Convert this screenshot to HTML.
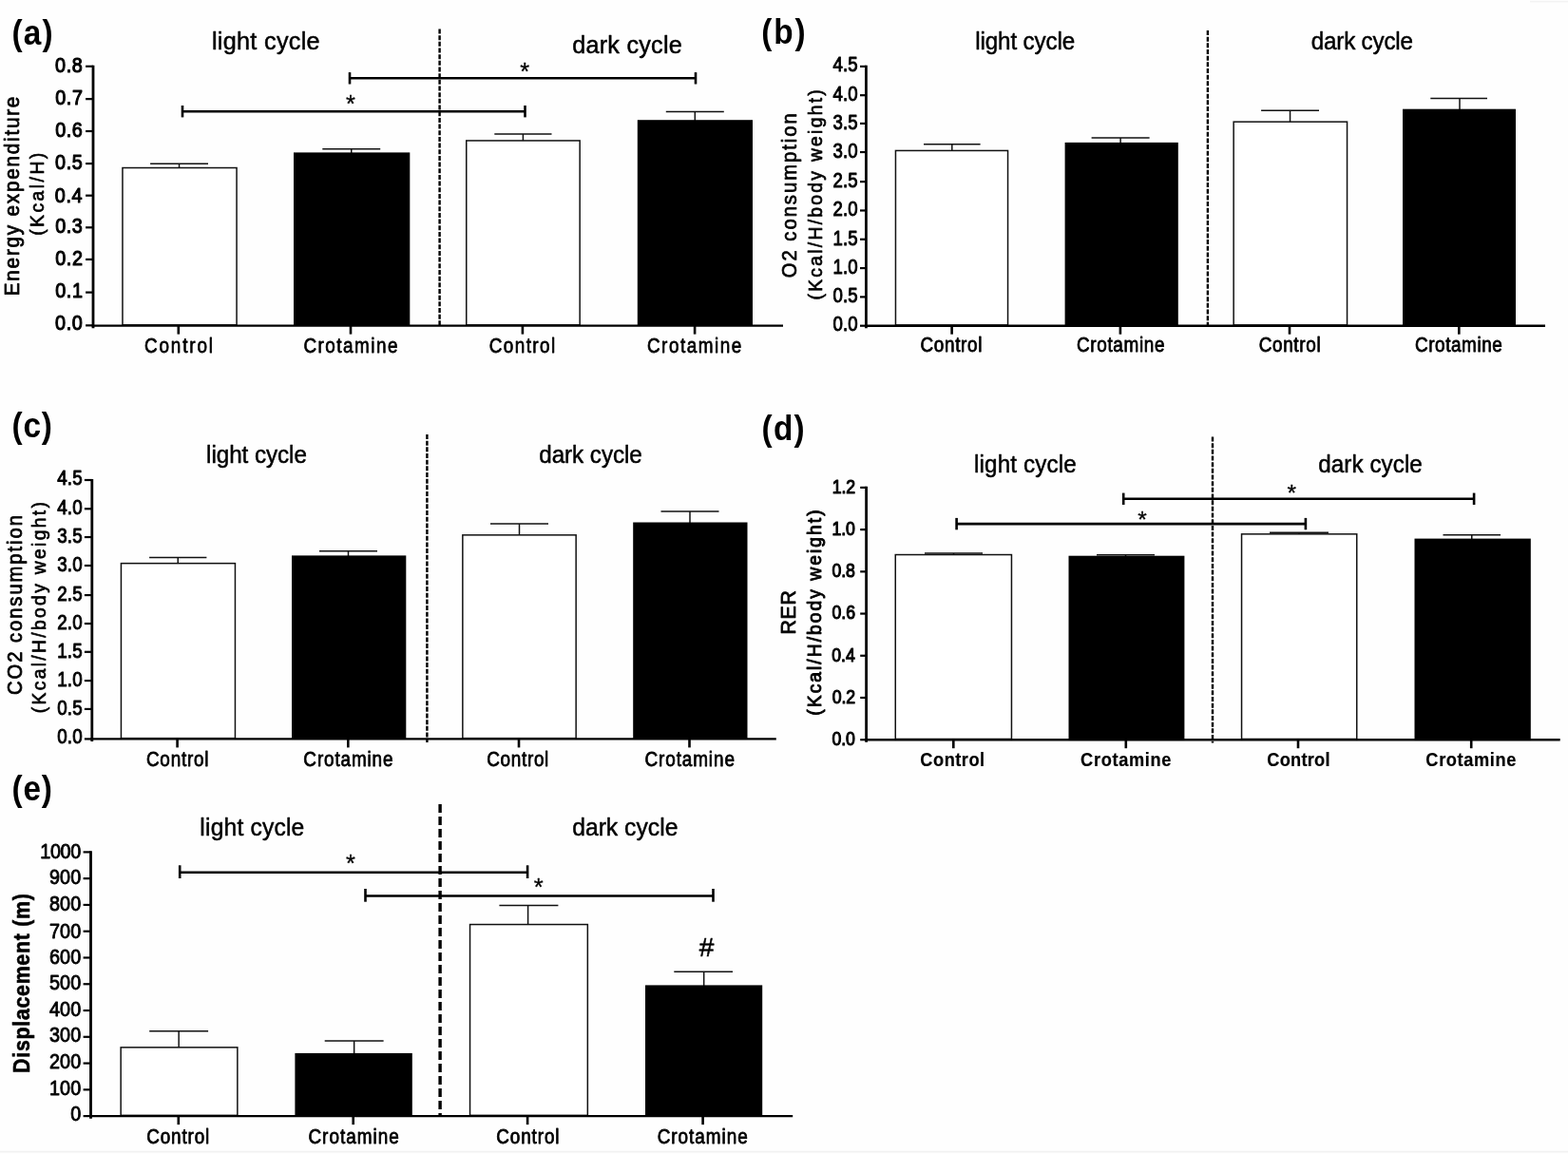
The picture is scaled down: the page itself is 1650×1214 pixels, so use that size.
<!DOCTYPE html>
<html lang="en">
<head>
<meta charset="utf-8">
<title>Figure: energy expenditure, O2/CO2 consumption, RER and displacement</title>
<style>
html,body{margin:0;padding:0;background:#fefefe;}
body{width:1650px;height:1214px;overflow:hidden;}
svg{display:block;filter:blur(0.45px);}
text{font-family:"Liberation Sans",Arial,Helvetica,sans-serif;fill:#000;stroke-linejoin:round;}
</style>
</head>
<body>
<svg width="1650" height="1214" viewBox="0 0 1650 1214">
<rect width="1650" height="1214" fill="#fefefe"/>
<rect x="0" y="1210.8" width="1650" height="1.6" fill="#f1f1f1"/>
<rect x="1610" y="0.8" width="40" height="1.6" fill="#f3f3f3"/>
<g>
<line x1="188.55" y1="172.3" x2="188.55" y2="176.8" stroke="#111" stroke-width="1.5"/>
<line x1="158.1" y1="172.3" x2="219" y2="172.3" stroke="#111" stroke-width="1.5"/>
<rect x="128.95" y="176.55" width="120.1" height="165.3" fill="#fff" stroke="#111" stroke-width="1.5"/>
<line x1="369.75" y1="156.8" x2="369.75" y2="161.4" stroke="#111" stroke-width="1.5"/>
<line x1="339.3" y1="156.8" x2="400.2" y2="156.8" stroke="#111" stroke-width="1.5"/>
<rect x="309" y="160.4" width="122.3" height="182.2" fill="#000"/>
<line x1="550.4" y1="141" x2="550.4" y2="148.2" stroke="#111" stroke-width="1.5"/>
<line x1="520.3" y1="141" x2="580.5" y2="141" stroke="#111" stroke-width="1.5"/>
<rect x="490.75" y="147.95" width="119.4" height="193.9" fill="#fff" stroke="#111" stroke-width="1.5"/>
<line x1="731.3" y1="117.6" x2="731.3" y2="127.2" stroke="#111" stroke-width="1.5"/>
<line x1="700.8" y1="117.6" x2="761.8" y2="117.6" stroke="#111" stroke-width="1.5"/>
<rect x="670.8" y="126.2" width="121.2" height="216.4" fill="#000"/>
<line x1="462.6" y1="30.5" x2="462.6" y2="342" stroke="#000" stroke-width="2.4" stroke-dasharray="5 1.67"/>
<line x1="98" y1="68.7" x2="98" y2="345.2" stroke="#000" stroke-width="2.8"/>
<line x1="96.6" y1="342.6" x2="824" y2="342.6" stroke="#000" stroke-width="2.4"/>
<line x1="90.1" y1="342.35" x2="98" y2="342.35" stroke="#000" stroke-width="2.2"/>
<text transform="translate(58.07 347.3) scale(0.9 1)" font-size="22" letter-spacing="0.67" stroke="#000" stroke-width="1.1">0.0</text>
<line x1="90.1" y1="307.6" x2="98" y2="307.6" stroke="#000" stroke-width="2.2"/>
<text transform="translate(58.27 313.1) scale(0.9 1)" font-size="22" letter-spacing="0.67" stroke="#000" stroke-width="1.1">0.1</text>
<line x1="90.1" y1="272.9" x2="98" y2="272.9" stroke="#000" stroke-width="2.2"/>
<text transform="translate(58.27 279.2) scale(0.9 1)" font-size="22" letter-spacing="0.67" stroke="#000" stroke-width="1.1">0.2</text>
<line x1="90.1" y1="239.3" x2="98" y2="239.3" stroke="#000" stroke-width="2.2"/>
<text transform="translate(58.17 245.25) scale(0.9 1)" font-size="22" letter-spacing="0.67" stroke="#000" stroke-width="1.1">0.3</text>
<line x1="90.1" y1="205.7" x2="98" y2="205.7" stroke="#000" stroke-width="2.2"/>
<text transform="translate(57.87 212.6) scale(0.9 1)" font-size="22" letter-spacing="0.67" stroke="#000" stroke-width="1.1">0.4</text>
<line x1="90.1" y1="172.1" x2="98" y2="172.1" stroke="#000" stroke-width="2.2"/>
<text transform="translate(58.12 178.3) scale(0.9 1)" font-size="22" letter-spacing="0.67" stroke="#000" stroke-width="1.1">0.5</text>
<line x1="90.1" y1="138" x2="98" y2="138" stroke="#000" stroke-width="2.2"/>
<text transform="translate(58.17 144.4) scale(0.9 1)" font-size="22" letter-spacing="0.67" stroke="#000" stroke-width="1.1">0.6</text>
<line x1="90.1" y1="104.15" x2="98" y2="104.15" stroke="#000" stroke-width="2.2"/>
<text transform="translate(58.27 110.4) scale(0.9 1)" font-size="22" letter-spacing="0.67" stroke="#000" stroke-width="1.1">0.7</text>
<line x1="90.1" y1="69.8" x2="98" y2="69.8" stroke="#000" stroke-width="2.2"/>
<text transform="translate(58.12 75.5) scale(0.9 1)" font-size="22" letter-spacing="0.67" stroke="#000" stroke-width="1.1">0.8</text>
<line x1="187.8" y1="342.6" x2="187.8" y2="351.6" stroke="#000" stroke-width="2.6"/>
<text transform="translate(152.03 371) scale(0.86 1)" font-size="22" letter-spacing="2.13" stroke="#000" stroke-width="0.75">Control</text>
<line x1="369" y1="342.6" x2="369" y2="351.6" stroke="#000" stroke-width="2.6"/>
<text transform="translate(319.43 371) scale(0.86 1)" font-size="22" letter-spacing="1.71" stroke="#000" stroke-width="0.75">Crotamine</text>
<line x1="549.9" y1="342.6" x2="549.9" y2="351.6" stroke="#000" stroke-width="2.6"/>
<text transform="translate(514.63 371) scale(0.86 1)" font-size="22" letter-spacing="1.69" stroke="#000" stroke-width="0.75">Control</text>
<line x1="731.1" y1="342.6" x2="731.1" y2="351.6" stroke="#000" stroke-width="2.6"/>
<text transform="translate(680.93 371) scale(0.86 1)" font-size="22" letter-spacing="1.78" stroke="#000" stroke-width="0.75">Crotamine</text>
<text transform="translate(12.41 47) scale(0.92 1)" font-size="36.3" letter-spacing="1.28" font-weight="bold">(a)</text>
<text transform="translate(222.91 51.5)" font-size="25.2" letter-spacing="0.31" stroke="#000" stroke-width="0.5">light cycle</text>
<text transform="translate(602.24 55.9)" font-size="25.2" letter-spacing="0.24" stroke="#000" stroke-width="0.5">dark cycle</text>
<text transform="translate(20.2 311.26) rotate(-90) scale(0.92 1)" font-size="22.5" letter-spacing="1.93" stroke="#000" stroke-width="0.8">Energy expenditure</text>
<text transform="translate(46 247.81) rotate(-90) scale(0.92 1)" font-size="21" letter-spacing="2.7" stroke="#000" stroke-width="0.7">(Kcal/H)</text>
<line x1="192" y1="117.2" x2="552.5" y2="117.2" stroke="#000" stroke-width="2.6"/>
<line x1="192" y1="111" x2="192" y2="123.4" stroke="#000" stroke-width="2.6"/>
<line x1="552.5" y1="111" x2="552.5" y2="123.4" stroke="#000" stroke-width="2.6"/>
<text transform="translate(364.03 118)" font-size="25.5" stroke="#000" stroke-width="0.3">*</text>
<line x1="368" y1="82.3" x2="732" y2="82.3" stroke="#000" stroke-width="2.6"/>
<line x1="368" y1="76.1" x2="368" y2="88.5" stroke="#000" stroke-width="2.6"/>
<line x1="732" y1="76.1" x2="732" y2="88.5" stroke="#000" stroke-width="2.6"/>
<text transform="translate(547.23 84)" font-size="25.5" stroke="#000" stroke-width="0.3">*</text>
</g>
<g>
<line x1="1001.8" y1="151.8" x2="1001.8" y2="158.7" stroke="#111" stroke-width="1.5"/>
<line x1="972" y1="151.8" x2="1031.6" y2="151.8" stroke="#111" stroke-width="1.5"/>
<rect x="942.45" y="158.45" width="118.1" height="183.5" fill="#fff" stroke="#111" stroke-width="1.5"/>
<line x1="1179.1" y1="145" x2="1179.1" y2="150.9" stroke="#111" stroke-width="1.5"/>
<line x1="1148.6" y1="145" x2="1209.6" y2="145" stroke="#111" stroke-width="1.5"/>
<rect x="1120.6" y="149.9" width="119.2" height="192.8" fill="#000"/>
<line x1="1357.55" y1="116.3" x2="1357.55" y2="128.4" stroke="#111" stroke-width="1.5"/>
<line x1="1327.1" y1="116.3" x2="1388" y2="116.3" stroke="#111" stroke-width="1.5"/>
<rect x="1298.15" y="128.15" width="119.4" height="213.8" fill="#fff" stroke="#111" stroke-width="1.5"/>
<line x1="1536" y1="103.5" x2="1536" y2="115.7" stroke="#111" stroke-width="1.5"/>
<line x1="1505.3" y1="103.5" x2="1565" y2="103.5" stroke="#111" stroke-width="1.5"/>
<rect x="1476" y="114.7" width="119" height="228" fill="#000"/>
<line x1="1270.9" y1="32" x2="1270.9" y2="342" stroke="#000" stroke-width="2.4" stroke-dasharray="5 1.67"/>
<line x1="911.4" y1="68.8" x2="911.4" y2="345.3" stroke="#000" stroke-width="2.8"/>
<line x1="910" y1="342.7" x2="1626" y2="342.7" stroke="#000" stroke-width="2.4"/>
<line x1="905" y1="342.7" x2="911.4" y2="342.7" stroke="#000" stroke-width="2.2"/>
<text transform="translate(876.48 348.2) scale(0.84 1)" font-size="22.2" letter-spacing="0.12" stroke="#000" stroke-width="1">0.0</text>
<line x1="905" y1="312.39" x2="911.4" y2="312.39" stroke="#000" stroke-width="2.2"/>
<text transform="translate(876.53 317.89) scale(0.84 1)" font-size="22.2" letter-spacing="0.12" stroke="#000" stroke-width="1">0.5</text>
<line x1="905" y1="282.08" x2="911.4" y2="282.08" stroke="#000" stroke-width="2.2"/>
<text transform="translate(876.48 288.38) scale(0.84 1)" font-size="22.2" letter-spacing="0.12" stroke="#000" stroke-width="1">1.0</text>
<line x1="905" y1="251.77" x2="911.4" y2="251.77" stroke="#000" stroke-width="2.2"/>
<text transform="translate(876.53 258.27) scale(0.84 1)" font-size="22.2" letter-spacing="0.12" stroke="#000" stroke-width="1">1.5</text>
<line x1="905" y1="221.46" x2="911.4" y2="221.46" stroke="#000" stroke-width="2.2"/>
<text transform="translate(876.48 227.36) scale(0.84 1)" font-size="22.2" letter-spacing="0.12" stroke="#000" stroke-width="1">2.0</text>
<line x1="905" y1="191.14" x2="911.4" y2="191.14" stroke="#000" stroke-width="2.2"/>
<text transform="translate(876.53 196.64) scale(0.84 1)" font-size="22.2" letter-spacing="0.12" stroke="#000" stroke-width="1">2.5</text>
<line x1="905" y1="160.03" x2="911.4" y2="160.03" stroke="#000" stroke-width="2.2"/>
<text transform="translate(876.48 166.13) scale(0.84 1)" font-size="22.2" letter-spacing="0.12" stroke="#000" stroke-width="1">3.0</text>
<line x1="905" y1="129.92" x2="911.4" y2="129.92" stroke="#000" stroke-width="2.2"/>
<text transform="translate(876.53 136.22) scale(0.84 1)" font-size="22.2" letter-spacing="0.12" stroke="#000" stroke-width="1">3.5</text>
<line x1="905" y1="100.21" x2="911.4" y2="100.21" stroke="#000" stroke-width="2.2"/>
<text transform="translate(876.48 106.01) scale(0.84 1)" font-size="22.2" letter-spacing="0.12" stroke="#000" stroke-width="1">4.0</text>
<line x1="905" y1="69.9" x2="911.4" y2="69.9" stroke="#000" stroke-width="2.2"/>
<text transform="translate(876.53 75.1) scale(0.84 1)" font-size="22.2" letter-spacing="0.12" stroke="#000" stroke-width="1">4.5</text>
<line x1="1001.6" y1="342.7" x2="1001.6" y2="351.7" stroke="#000" stroke-width="2.6"/>
<text transform="translate(968.45 370.4) scale(0.88 1)" font-size="21.5" letter-spacing="0.75" stroke="#000" stroke-width="0.8">Control</text>
<line x1="1178.9" y1="342.7" x2="1178.9" y2="351.7" stroke="#000" stroke-width="2.6"/>
<text transform="translate(1132.95 370.4) scale(0.88 1)" font-size="21.5" letter-spacing="0.74" stroke="#000" stroke-width="0.8">Crotamine</text>
<line x1="1357" y1="342.7" x2="1357" y2="351.7" stroke="#000" stroke-width="2.6"/>
<text transform="translate(1324.65 370.4) scale(0.88 1)" font-size="21.5" letter-spacing="0.75" stroke="#000" stroke-width="0.8">Control</text>
<line x1="1535.3" y1="342.7" x2="1535.3" y2="351.7" stroke="#000" stroke-width="2.6"/>
<text transform="translate(1488.95 370.4) scale(0.88 1)" font-size="21.5" letter-spacing="0.66" stroke="#000" stroke-width="0.8">Crotamine</text>
<text transform="translate(801.21 45.8) scale(0.92 1)" font-size="36.3" letter-spacing="2.02" font-weight="bold">(b)</text>
<text transform="translate(1026.18 52.2) scale(0.95 1)" font-size="25.5" letter-spacing="-0.13" stroke="#000" stroke-width="0.5">light cycle</text>
<text transform="translate(1379.78 52.2) scale(0.95 1)" font-size="25.5" letter-spacing="-0.21" stroke="#000" stroke-width="0.5">dark cycle</text>
<text transform="translate(838.3 292.16) rotate(-90) scale(0.92 1)" font-size="22" letter-spacing="2.14" stroke="#000" stroke-width="0.7">O2 consumption</text>
<text transform="translate(864.9 315.51) rotate(-90) scale(0.92 1)" font-size="21" letter-spacing="2.47" stroke="#000" stroke-width="0.7">(Kcal/H/body weight)</text>
</g>
<g>
<line x1="187.25" y1="586.4" x2="187.25" y2="592.9" stroke="#111" stroke-width="1.5"/>
<line x1="157.1" y1="586.4" x2="217.4" y2="586.4" stroke="#111" stroke-width="1.5"/>
<rect x="127.45" y="592.65" width="120" height="184" fill="#fff" stroke="#111" stroke-width="1.5"/>
<line x1="366.5" y1="579.8" x2="366.5" y2="585.4" stroke="#111" stroke-width="1.5"/>
<line x1="336" y1="579.8" x2="397" y2="579.8" stroke="#111" stroke-width="1.5"/>
<rect x="307" y="584.4" width="120.3" height="193" fill="#000"/>
<line x1="546.5" y1="551.1" x2="546.5" y2="563.1" stroke="#111" stroke-width="1.5"/>
<line x1="516" y1="551.1" x2="577" y2="551.1" stroke="#111" stroke-width="1.5"/>
<rect x="486.85" y="562.85" width="119.3" height="213.8" fill="#fff" stroke="#111" stroke-width="1.5"/>
<line x1="726" y1="538" x2="726" y2="550.5" stroke="#111" stroke-width="1.5"/>
<line x1="695.5" y1="538" x2="756.5" y2="538" stroke="#111" stroke-width="1.5"/>
<rect x="666.2" y="549.5" width="120.3" height="227.9" fill="#000"/>
<line x1="449.4" y1="457" x2="449.4" y2="781" stroke="#000" stroke-width="2.4" stroke-dasharray="5 1.67"/>
<line x1="96.8" y1="503.9" x2="96.8" y2="780" stroke="#000" stroke-width="2.8"/>
<line x1="95.4" y1="777.4" x2="816.8" y2="777.4" stroke="#000" stroke-width="2.4"/>
<line x1="88.9" y1="777.4" x2="96.8" y2="777.4" stroke="#000" stroke-width="2.2"/>
<text transform="translate(60.25 781.6) scale(0.84 1)" font-size="22.4" letter-spacing="0.12" stroke="#000" stroke-width="1">0.0</text>
<line x1="88.9" y1="745.93" x2="96.8" y2="745.93" stroke="#000" stroke-width="2.2"/>
<text transform="translate(60.3 751.63) scale(0.84 1)" font-size="22.4" letter-spacing="0.12" stroke="#000" stroke-width="1">0.5</text>
<line x1="88.9" y1="716.07" x2="96.8" y2="716.07" stroke="#000" stroke-width="2.2"/>
<text transform="translate(60.25 721.87) scale(0.84 1)" font-size="22.4" letter-spacing="0.12" stroke="#000" stroke-width="1">1.0</text>
<line x1="88.9" y1="685.8" x2="96.8" y2="685.8" stroke="#000" stroke-width="2.2"/>
<text transform="translate(60.3 691.8) scale(0.84 1)" font-size="22.4" letter-spacing="0.12" stroke="#000" stroke-width="1">1.5</text>
<line x1="88.9" y1="656.03" x2="96.8" y2="656.03" stroke="#000" stroke-width="2.2"/>
<text transform="translate(60.25 661.53) scale(0.84 1)" font-size="22.4" letter-spacing="0.12" stroke="#000" stroke-width="1">2.0</text>
<line x1="88.9" y1="626.07" x2="96.8" y2="626.07" stroke="#000" stroke-width="2.2"/>
<text transform="translate(60.3 632.07) scale(0.84 1)" font-size="22.4" letter-spacing="0.12" stroke="#000" stroke-width="1">2.5</text>
<line x1="88.9" y1="595" x2="96.8" y2="595" stroke="#000" stroke-width="2.2"/>
<text transform="translate(60.25 601) scale(0.84 1)" font-size="22.4" letter-spacing="0.12" stroke="#000" stroke-width="1">3.0</text>
<line x1="88.9" y1="565.03" x2="96.8" y2="565.03" stroke="#000" stroke-width="2.2"/>
<text transform="translate(60.3 571.33) scale(0.84 1)" font-size="22.4" letter-spacing="0.12" stroke="#000" stroke-width="1">3.5</text>
<line x1="88.9" y1="535.27" x2="96.8" y2="535.27" stroke="#000" stroke-width="2.2"/>
<text transform="translate(60.25 541.07) scale(0.84 1)" font-size="22.4" letter-spacing="0.12" stroke="#000" stroke-width="1">4.0</text>
<line x1="88.9" y1="505" x2="96.8" y2="505" stroke="#000" stroke-width="2.2"/>
<text transform="translate(60.3 510.3) scale(0.84 1)" font-size="22.4" letter-spacing="0.12" stroke="#000" stroke-width="1">4.5</text>
<line x1="186.6" y1="777.4" x2="186.6" y2="786.4" stroke="#000" stroke-width="2.6"/>
<text transform="translate(153.95 805.8) scale(0.88 1)" font-size="21.5" letter-spacing="0.86" stroke="#000" stroke-width="0.8">Control</text>
<line x1="366.3" y1="777.4" x2="366.3" y2="786.4" stroke="#000" stroke-width="2.6"/>
<text transform="translate(319.35 805.8) scale(0.88 1)" font-size="21.5" letter-spacing="0.98" stroke="#000" stroke-width="0.8">Crotamine</text>
<line x1="546" y1="777.4" x2="546" y2="786.4" stroke="#000" stroke-width="2.6"/>
<text transform="translate(512.15 805.8) scale(0.88 1)" font-size="21.5" letter-spacing="0.79" stroke="#000" stroke-width="0.8">Control</text>
<line x1="725.5" y1="777.4" x2="725.5" y2="786.4" stroke="#000" stroke-width="2.6"/>
<text transform="translate(678.45 805.8) scale(0.88 1)" font-size="21.5" letter-spacing="1.02" stroke="#000" stroke-width="0.8">Crotamine</text>
<text transform="translate(12.41 459.9) scale(0.92 1)" font-size="36.3" letter-spacing="0.95" font-weight="bold">(c)</text>
<text transform="translate(217.08 486.8) scale(0.95 1)" font-size="25.5" letter-spacing="-0.05" stroke="#000" stroke-width="0.5">light cycle</text>
<text transform="translate(567.28 486.6) scale(0.95 1)" font-size="25.5" letter-spacing="-0.06" stroke="#000" stroke-width="0.5">dark cycle</text>
<text transform="translate(23.4 730.91) rotate(-90) scale(0.92 1)" font-size="22" letter-spacing="2.09" stroke="#000" stroke-width="0.8">CO2 consumption</text>
<text transform="translate(48.3 750.21) rotate(-90) scale(0.92 1)" font-size="21" letter-spacing="2.52" stroke="#000" stroke-width="0.7">(Kcal/H/body weight)</text>
</g>
<g>
<line x1="1003.5" y1="582" x2="1003.5" y2="583.8" stroke="#111" stroke-width="1.5"/>
<line x1="973" y1="582" x2="1034" y2="582" stroke="#111" stroke-width="1.5"/>
<rect x="942.25" y="583.55" width="122.2" height="193.9" fill="#fff" stroke="#111" stroke-width="1.5"/>
<line x1="1184.5" y1="583.8" x2="1184.5" y2="585.7" stroke="#111" stroke-width="1.5"/>
<line x1="1154" y1="583.8" x2="1215" y2="583.8" stroke="#111" stroke-width="1.5"/>
<rect x="1124.5" y="584.7" width="121.9" height="193.5" fill="#000"/>
<line x1="1367" y1="560.2" x2="1367" y2="562.1" stroke="#111" stroke-width="1.5"/>
<line x1="1336" y1="560.2" x2="1398" y2="560.2" stroke="#111" stroke-width="1.5"/>
<rect x="1306.55" y="561.85" width="121.2" height="215.6" fill="#fff" stroke="#111" stroke-width="1.5"/>
<line x1="1548.75" y1="562.7" x2="1548.75" y2="567.6" stroke="#111" stroke-width="1.5"/>
<line x1="1518.5" y1="562.7" x2="1579" y2="562.7" stroke="#111" stroke-width="1.5"/>
<rect x="1488.5" y="566.6" width="122.3" height="211.6" fill="#000"/>
<line x1="1276" y1="459.5" x2="1276" y2="781.5" stroke="#000" stroke-width="2.4" stroke-dasharray="5 1.67"/>
<line x1="911.6" y1="511.8" x2="911.6" y2="780.8" stroke="#000" stroke-width="2.8"/>
<line x1="910.2" y1="778.2" x2="1641.7" y2="778.2" stroke="#000" stroke-width="2.4"/>
<line x1="905.2" y1="778.2" x2="911.6" y2="778.2" stroke="#000" stroke-width="2.2"/>
<text transform="translate(875.51 783.6) scale(0.85 1)" font-size="20.8" letter-spacing="-0.12" stroke="#000" stroke-width="1.15">0.0</text>
<line x1="905.2" y1="733.98" x2="911.6" y2="733.98" stroke="#000" stroke-width="2.2"/>
<text transform="translate(875.69 740.28) scale(0.85 1)" font-size="20.8" letter-spacing="-0.12" stroke="#000" stroke-width="1.15">0.2</text>
<line x1="905.2" y1="689.77" x2="911.6" y2="689.77" stroke="#000" stroke-width="2.2"/>
<text transform="translate(875.34 696.27) scale(0.85 1)" font-size="20.8" letter-spacing="-0.12" stroke="#000" stroke-width="1.15">0.4</text>
<line x1="905.2" y1="645.55" x2="911.6" y2="645.55" stroke="#000" stroke-width="2.2"/>
<text transform="translate(875.6 651.35) scale(0.85 1)" font-size="20.8" letter-spacing="-0.12" stroke="#000" stroke-width="1.15">0.6</text>
<line x1="905.2" y1="601.33" x2="911.6" y2="601.33" stroke="#000" stroke-width="2.2"/>
<text transform="translate(875.56 606.83) scale(0.85 1)" font-size="20.8" letter-spacing="-0.12" stroke="#000" stroke-width="1.15">0.8</text>
<line x1="905.2" y1="557.12" x2="911.6" y2="557.12" stroke="#000" stroke-width="2.2"/>
<text transform="translate(875.51 562.92) scale(0.85 1)" font-size="20.8" letter-spacing="-0.12" stroke="#000" stroke-width="1.15">1.0</text>
<line x1="905.2" y1="512.9" x2="911.6" y2="512.9" stroke="#000" stroke-width="2.2"/>
<text transform="translate(875.69 518.7) scale(0.85 1)" font-size="20.8" letter-spacing="-0.12" stroke="#000" stroke-width="1.15">1.2</text>
<line x1="1003.3" y1="778.2" x2="1003.3" y2="787.2" stroke="#000" stroke-width="2.6"/>
<text transform="translate(968.37 805.5) scale(0.93 1)" font-size="19.6" letter-spacing="0.54" font-weight="bold" stroke="#000" stroke-width="0.2">Control</text>
<line x1="1184.8" y1="778.2" x2="1184.8" y2="787.2" stroke="#000" stroke-width="2.6"/>
<text transform="translate(1137.07 805.5) scale(0.93 1)" font-size="19.6" letter-spacing="0.71" font-weight="bold" stroke="#000" stroke-width="0.2">Crotamine</text>
<line x1="1366" y1="778.2" x2="1366" y2="787.2" stroke="#000" stroke-width="2.6"/>
<text transform="translate(1333.37 805.5) scale(0.93 1)" font-size="19.6" letter-spacing="0.25" font-weight="bold" stroke="#000" stroke-width="0.2">Control</text>
<line x1="1548.2" y1="778.2" x2="1548.2" y2="787.2" stroke="#000" stroke-width="2.6"/>
<text transform="translate(1500.37 805.5) scale(0.93 1)" font-size="19.6" letter-spacing="0.67" font-weight="bold" stroke="#000" stroke-width="0.2">Crotamine</text>
<text transform="translate(801.61 462.5) scale(0.92 1)" font-size="36.3" letter-spacing="1.26" font-weight="bold">(d)</text>
<text transform="translate(1024.98 496.5) scale(0.95 1)" font-size="25.5" letter-spacing="0.15" stroke="#000" stroke-width="0.5">light cycle</text>
<text transform="translate(1387.28 496.5) scale(0.95 1)" font-size="25.5" letter-spacing="0.06" stroke="#000" stroke-width="0.5">dark cycle</text>
<text transform="translate(837 667.61) rotate(-90) scale(0.95 1)" font-size="22.5" letter-spacing="0.75" stroke="#000" stroke-width="0.8">RER</text>
<text transform="translate(864.4 752.68) rotate(-90) scale(0.92 1)" font-size="21" letter-spacing="2.19" stroke="#000" stroke-width="0.95">(Kcal/H/body weight)</text>
<line x1="1006.6" y1="551.1" x2="1373.9" y2="551.1" stroke="#000" stroke-width="2.6"/>
<line x1="1006.6" y1="544.9" x2="1006.6" y2="557.3" stroke="#000" stroke-width="2.6"/>
<line x1="1373.9" y1="544.9" x2="1373.9" y2="557.3" stroke="#000" stroke-width="2.6"/>
<text transform="translate(1197.22 554.6)" font-size="24.5" stroke="#000" stroke-width="0.3">*</text>
<line x1="1182.2" y1="524.8" x2="1551.1" y2="524.8" stroke="#000" stroke-width="2.6"/>
<line x1="1182.2" y1="518.6" x2="1182.2" y2="531" stroke="#000" stroke-width="2.6"/>
<line x1="1551.1" y1="518.6" x2="1551.1" y2="531" stroke="#000" stroke-width="2.6"/>
<text transform="translate(1354.62 527.4)" font-size="24.5" stroke="#000" stroke-width="0.3">*</text>
</g>
<g>
<line x1="188.15" y1="1084.8" x2="188.15" y2="1102.1" stroke="#111" stroke-width="1.5"/>
<line x1="157.2" y1="1084.8" x2="219.1" y2="1084.8" stroke="#111" stroke-width="1.5"/>
<rect x="127.15" y="1101.85" width="122.7" height="71.5" fill="#fff" stroke="#111" stroke-width="1.5"/>
<line x1="372.65" y1="1095" x2="372.65" y2="1108.9" stroke="#111" stroke-width="1.5"/>
<line x1="341.7" y1="1095" x2="403.6" y2="1095" stroke="#111" stroke-width="1.5"/>
<rect x="310.4" y="1107.9" width="123.4" height="66.2" fill="#000"/>
<line x1="555.6" y1="952.4" x2="555.6" y2="972.8" stroke="#111" stroke-width="1.5"/>
<line x1="525.4" y1="952.4" x2="587.4" y2="952.4" stroke="#111" stroke-width="1.5"/>
<rect x="494.55" y="972.55" width="123.8" height="200.8" fill="#fff" stroke="#111" stroke-width="1.5"/>
<line x1="740.7" y1="1022.2" x2="740.7" y2="1037.4" stroke="#111" stroke-width="1.5"/>
<line x1="709.3" y1="1022.2" x2="771" y2="1022.2" stroke="#111" stroke-width="1.5"/>
<rect x="679" y="1036.4" width="123.2" height="137.7" fill="#000"/>
<line x1="463.1" y1="845.9" x2="463.1" y2="1173" stroke="#000" stroke-width="3.4" stroke-dasharray="9.2 3.8"/>
<line x1="95.5" y1="895.3" x2="95.5" y2="1176.7" stroke="#000" stroke-width="2.8"/>
<line x1="94.1" y1="1174.1" x2="834.2" y2="1174.1" stroke="#000" stroke-width="2.4"/>
<line x1="87.6" y1="1174.1" x2="95.5" y2="1174.1" stroke="#000" stroke-width="2.2"/>
<text transform="translate(74.2 1178.8) scale(0.9 1)" font-size="22" stroke="#000" stroke-width="0.9">0</text>
<line x1="87.6" y1="1146.33" x2="95.5" y2="1146.33" stroke="#000" stroke-width="2.2"/>
<text transform="translate(51.98 1151.83) scale(0.9 1)" font-size="22" letter-spacing="0.11" stroke="#000" stroke-width="0.9">100</text>
<line x1="87.6" y1="1118.56" x2="95.5" y2="1118.56" stroke="#000" stroke-width="2.2"/>
<text transform="translate(51.98 1124.06) scale(0.9 1)" font-size="22" letter-spacing="0.11" stroke="#000" stroke-width="0.9">200</text>
<line x1="87.6" y1="1090.79" x2="95.5" y2="1090.79" stroke="#000" stroke-width="2.2"/>
<text transform="translate(51.98 1096.29) scale(0.9 1)" font-size="22" letter-spacing="0.11" stroke="#000" stroke-width="0.9">300</text>
<line x1="87.6" y1="1063.02" x2="95.5" y2="1063.02" stroke="#000" stroke-width="2.2"/>
<text transform="translate(51.98 1068.52) scale(0.9 1)" font-size="22" letter-spacing="0.11" stroke="#000" stroke-width="0.9">400</text>
<line x1="87.6" y1="1035.25" x2="95.5" y2="1035.25" stroke="#000" stroke-width="2.2"/>
<text transform="translate(51.98 1040.75) scale(0.9 1)" font-size="22" letter-spacing="0.11" stroke="#000" stroke-width="0.9">500</text>
<line x1="87.6" y1="1007.48" x2="95.5" y2="1007.48" stroke="#000" stroke-width="2.2"/>
<text transform="translate(51.98 1013.78) scale(0.9 1)" font-size="22" letter-spacing="0.11" stroke="#000" stroke-width="0.9">600</text>
<line x1="87.6" y1="979.71" x2="95.5" y2="979.71" stroke="#000" stroke-width="2.2"/>
<text transform="translate(51.98 986.81) scale(0.9 1)" font-size="22" letter-spacing="0.11" stroke="#000" stroke-width="0.9">700</text>
<line x1="87.6" y1="951.94" x2="95.5" y2="951.94" stroke="#000" stroke-width="2.2"/>
<text transform="translate(51.98 958.24) scale(0.9 1)" font-size="22" letter-spacing="0.11" stroke="#000" stroke-width="0.9">800</text>
<line x1="87.6" y1="924.17" x2="95.5" y2="924.17" stroke="#000" stroke-width="2.2"/>
<text transform="translate(51.98 930.37) scale(0.9 1)" font-size="22" letter-spacing="0.11" stroke="#000" stroke-width="0.9">900</text>
<line x1="87.6" y1="896.4" x2="95.5" y2="896.4" stroke="#000" stroke-width="2.2"/>
<text transform="translate(42.24 903) scale(0.9 1)" font-size="22" letter-spacing="-0.39" stroke="#000" stroke-width="0.9">1000</text>
<line x1="187.8" y1="1174.1" x2="187.8" y2="1183.1" stroke="#000" stroke-width="2.6"/>
<text transform="translate(154.15 1202.8) scale(0.88 1)" font-size="21.5" letter-spacing="0.98" stroke="#000" stroke-width="0.8">Control</text>
<line x1="371.7" y1="1174.1" x2="371.7" y2="1183.1" stroke="#000" stroke-width="2.6"/>
<text transform="translate(324.45 1202.8) scale(0.88 1)" font-size="21.5" letter-spacing="1.13" stroke="#000" stroke-width="0.8">Crotamine</text>
<line x1="555.1" y1="1174.1" x2="555.1" y2="1183.1" stroke="#000" stroke-width="2.6"/>
<text transform="translate(522.15 1202.8) scale(0.88 1)" font-size="21.5" letter-spacing="1.03" stroke="#000" stroke-width="0.8">Control</text>
<line x1="739.6" y1="1174.1" x2="739.6" y2="1183.1" stroke="#000" stroke-width="2.6"/>
<text transform="translate(691.65 1202.8) scale(0.88 1)" font-size="21.5" letter-spacing="1.11" stroke="#000" stroke-width="0.8">Crotamine</text>
<text transform="translate(12.41 841.5) scale(0.92 1)" font-size="36.3" letter-spacing="0.95" font-weight="bold">(e)</text>
<text transform="translate(210.34 878.8) scale(0.95 1)" font-size="26" letter-spacing="0.17" stroke="#000" stroke-width="0.5">light cycle</text>
<text transform="translate(602.16 878.8) scale(0.95 1)" font-size="26" letter-spacing="0.01" stroke="#000" stroke-width="0.5">dark cycle</text>
<text transform="translate(30.9 1128.89) rotate(-90) scale(0.87 1)" font-size="24.5" letter-spacing="0.85" font-weight="bold" stroke="#000" stroke-width="0.6">Displacement (m)</text>
<text transform="translate(735.81 1006) scale(1.04 1)" font-size="27" stroke="#000" stroke-width="0.5">#</text>
<line x1="189.2" y1="917.8" x2="555.1" y2="917.8" stroke="#000" stroke-width="2.6"/>
<line x1="189.2" y1="910.3" x2="189.2" y2="924" stroke="#000" stroke-width="2.6"/>
<line x1="555.1" y1="910.3" x2="555.1" y2="924" stroke="#000" stroke-width="2.6"/>
<text transform="translate(364.03 917.2)" font-size="25.5" stroke="#000" stroke-width="0.3">*</text>
<line x1="384.5" y1="942.5" x2="750.5" y2="942.5" stroke="#000" stroke-width="2.6"/>
<line x1="384.5" y1="935" x2="384.5" y2="948.7" stroke="#000" stroke-width="2.6"/>
<line x1="750.5" y1="935" x2="750.5" y2="948.7" stroke="#000" stroke-width="2.6"/>
<text transform="translate(561.63 942)" font-size="25.5" stroke="#000" stroke-width="0.3">*</text>
</g>
</svg>
</body>
</html>
